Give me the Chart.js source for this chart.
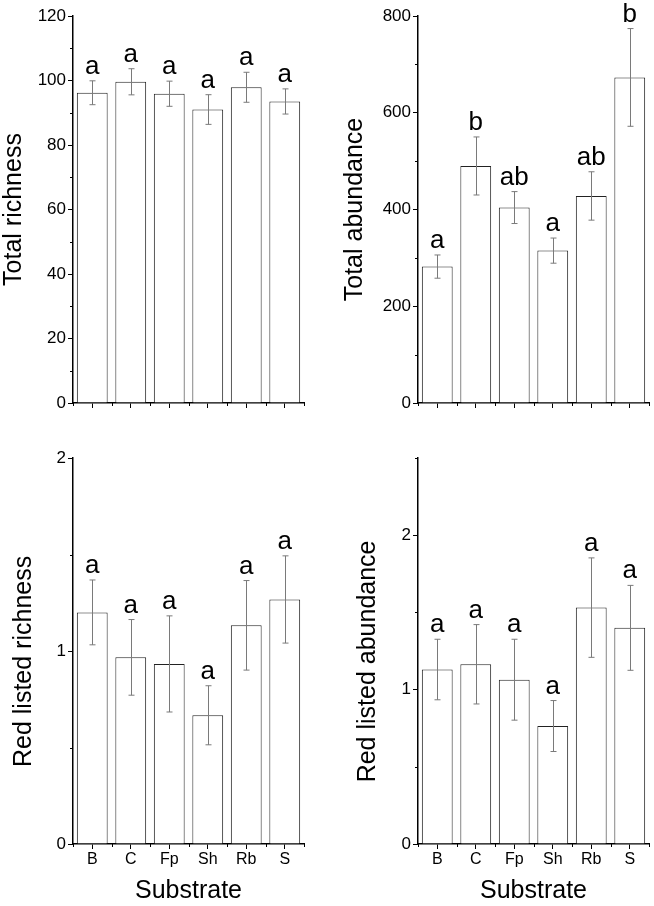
<!DOCTYPE html>
<html>
<head>
<meta charset="utf-8">
<script src="https://cdn.jsdelivr.net/npm/chart.js@4.4.1/dist/chart.umd.min.js"></script>
<style>
  html, body { margin: 0; padding: 0; background: #fff; }
  #wrap { position: relative; width: 654px; height: 906px; }
  .panel { position: absolute; }
</style>
</head>
<body>
<div id="wrap">
  <div class="panel" style="left:0;top:0;width:327px;height:420px"><canvas id="c1"></canvas></div>
  <div class="panel" style="left:327px;top:0;width:327px;height:420px"><canvas id="c2"></canvas></div>
  <div class="panel" style="left:0;top:420px;width:327px;height:486px"><canvas id="c3"></canvas></div>
  <div class="panel" style="left:327px;top:420px;width:327px;height:486px"><canvas id="c4"></canvas></div>
</div>
<script>
// categories
const substrates = ['B', 'C', 'Fp', 'Sh', 'Rb', 'S'];

// Total richness
const richness = [96.2, 99.6, 95.9, 91.0, 97.9, 93.5];
const richnessErr = [3.7, 4.05, 3.9, 4.6, 4.65, 3.9];
const richnessLetters = ['a', 'a', 'a', 'a', 'a', 'a'];
const richnessTicks = [0, 20, 40, 60, 80, 100, 120];
const richnessMinor = [10, 30, 50, 70, 90, 110];

// Total abundance
const abundance = [282, 490, 404, 315, 428, 673];
const abundanceErr = [24, 60, 33, 26, 50, 101];
const abundanceLetters = ['a', 'b', 'ab', 'a', 'ab', 'b'];
const abundanceTicks = [0, 200, 400, 600, 800];
const abundanceMinor = [100, 300, 500, 700];

// Red listed richness
const redRichness = [1.2, 0.967, 0.933, 0.667, 1.133, 1.267];
const redRichnessErr = [0.168, 0.196, 0.249, 0.153, 0.232, 0.226];
const redRichnessLetters = ['a', 'a', 'a', 'a', 'a', 'a'];
const redRichnessTicks = [0, 1, 2];
const redRichnessMinor = [0.5, 1.5];

// Red listed abundance
const redAbundance = [1.13, 1.164, 1.064, 0.764, 1.531, 1.4];
const redAbundanceErr = [0.196, 0.257, 0.262, 0.165, 0.322, 0.275];
const redAbundanceLetters = ['a', 'a', 'a', 'a', 'a', 'a'];
const redAbundanceTicks = [0, 1, 2];
const redAbundanceMinor = [0.5, 1.5, 2.5];

const FONT = "'Liberation Sans', Arial, Helvetica, sans-serif";
Chart.defaults.font.family = FONT;
Chart.defaults.color = '#000';

// error bars, letters and minor ticks
function extrasPlugin(vals, errs, letters, minor) {
    return {
        id: 'extras',
        afterDraw(chart) {
            const ctx = chart.ctx;
            const xs = chart.scales.x, ys = chart.scales.y;
            const meta = chart.getDatasetMeta(0);
            ctx.save();
            ctx.strokeStyle = '#7a7a7a';
            ctx.lineWidth = 1;
            vals.forEach((v, i) => {
                const px = Math.round(meta.data[i].x) + 0.5;
                const top = ys.getPixelForValue(v + errs[i]);
                const bot = ys.getPixelForValue(v - errs[i]);
                ctx.beginPath();
                ctx.moveTo(px, top); ctx.lineTo(px, bot);
                ctx.moveTo(px - 3, top); ctx.lineTo(px + 3, top);
                ctx.moveTo(px - 3, bot); ctx.lineTo(px + 3, bot);
                ctx.stroke();
            });
            ctx.fillStyle = '#000';
            ctx.font = '26px ' + FONT;
            ctx.textAlign = 'center';
            ctx.textBaseline = 'alphabetic';
            vals.forEach((v, i) => {
                const top = ys.getPixelForValue(v + errs[i]);
                ctx.fillText(letters[i], meta.data[i].x, top - 7);
            });
            // minor ticks
            ctx.strokeStyle = '#000';
            ctx.lineWidth = 1;
            ctx.beginPath();
            minor.forEach(m => {
                const py = Math.round(ys.getPixelForValue(m)) + 0.5;
                ctx.moveTo(ys.right - 3, py); ctx.lineTo(ys.right, py);
            });
            for (let i = 0; i <= vals.length; i++) {
                const px = Math.round(xs.getPixelForValue(i - 0.5)) + 0.5;
                ctx.moveTo(px, xs.top); ctx.lineTo(px, xs.top + 3);
            }
            ctx.stroke();
            ctx.restore();
        }
    };
}

function createChart(id, p) {
    const ctx = document.getElementById(id).getContext('2d');
    return new Chart(ctx, {
        type: 'bar',
        data: {
            labels: substrates,
            datasets: [{
                data: p.vals,
                backgroundColor: '#fff',
                borderColor: '#222',
                borderWidth: 1,
                barPercentage: 0.8,
                categoryPercentage: 1.0
            }]
        },
        options: {
            responsive: true,
            maintainAspectRatio: false,
            animation: false,
            layout: { padding: p.padding },
            plugins: { legend: { display: false }, tooltip: { enabled: false } },
            scales: {
                x: {
                    z: 1,
                    offset: true,
                    grid: { display: true, offset: false, drawOnChartArea: false, tickLength: 5, tickColor: '#000', tickWidth: 1 },
                    border: { display: true, color: '#000', width: 1.5 },
                    ticks: { display: p.showX, padding: 1, font: { size: 16 }, color: '#000', maxRotation: 0 },
                    title: { display: p.showX, text: 'Substrate', font: { size: 25 }, color: '#000', padding: { top: 0, bottom: 0 } },
                    afterFit: s => { s.height = p.xHeight; }
                },
                y: {
                    z: 1,
                    min: 0,
                    max: p.max,
                    afterBuildTicks: s => { s.ticks = p.ticks.map(v => ({ value: v })); },
                    grid: { display: true, drawOnChartArea: false, tickLength: 5, tickColor: '#000', tickWidth: 1 },
                    border: { display: true, color: '#000', width: 1.5 },
                    ticks: { padding: 2, font: { size: 17 }, color: '#000' },
                    title: { display: true, text: p.title, font: { size: 25 }, color: '#000', padding: { top: p.titlePad, bottom: 0 } },
                    afterFit: s => { s.width = p.yWidth; }
                }
            }
        },
        plugins: [extrasPlugin(p.vals, p.errs, p.letters, p.minor)]
    });
}

createChart('c1', {
    vals: richness, errs: richnessErr, letters: richnessLetters, ticks: richnessTicks, minor: richnessMinor,
    max: 120, title: 'Total richness', titlePad: -1, yWidth: 73, xHeight: 17, showX: false,
    padding: { top: 16, right: 23, left: 0, bottom: 0 }
});
createChart('c2', {
    vals: abundance, errs: abundanceErr, letters: abundanceLetters, ticks: abundanceTicks, minor: abundanceMinor,
    max: 800, title: 'Total abundance', titlePad: 13, yWidth: 91, xHeight: 17, showX: false,
    padding: { top: 16, right: 5, left: 0, bottom: 0 }
});
createChart('c3', {
    vals: redRichness, errs: redRichnessErr, letters: redRichnessLetters, ticks: redRichnessTicks, minor: redRichnessMinor,
    max: 2, title: 'Red listed richness   ', titlePad: 9, yWidth: 73, xHeight: 62, showX: true,
    padding: { top: 38, right: 23, left: 0, bottom: 0 }
});
createChart('c4', {
    vals: redAbundance, errs: redAbundanceErr, letters: redAbundanceLetters, ticks: redAbundanceTicks, minor: redAbundanceMinor,
    max: 2.5, title: 'Red listed abundance   ', titlePad: 26, yWidth: 91, xHeight: 62, showX: true,
    padding: { top: 38, right: 5, left: 0, bottom: 0 }
});
</script>
</body>
</html>
